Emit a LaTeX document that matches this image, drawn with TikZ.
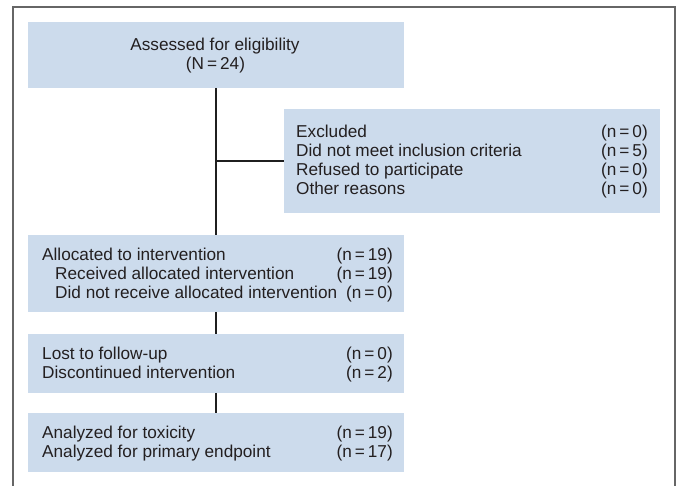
\documentclass[tikz,border=0pt]{standalone}
\usepackage{fontspec}
\setmainfont{Liberation Sans}
\definecolor{boxfill}{RGB}{204,219,236}
\definecolor{txt}{RGB}{35,31,32}
\newcommand{\myeq}{\hspace{3pt}=\hspace{3pt}}
\begin{document}
\begin{tikzpicture}[x=1pt,y=-1pt,
  box/.style={fill=boxfill, draw=none, minimum width=376pt, inner sep=0pt, outer sep=0pt},
  tx/.style={inner sep=0pt, text=txt, font=\fontsize{17.2}{19}\selectfont},
  lt/.style={tx, anchor=base west},
  rt/.style={tx, anchor=base east},
  ct/.style={tx, anchor=base},
  conn/.style={draw=black!88, line width=2.6pt},
  framepath/.style={draw=black!60, line width=1.8pt}]
\useasboundingbox (0,0) rectangle (681,486);
% outer frame (open at bottom)
\draw[framepath] (13,490) -- (13,7) -- (675,7) -- (675,490);
% boxes
\node[box, minimum height=66pt] (b1) at (216,55) {};
\node[box, minimum height=104pt] (ex) at (472,161) {};
\node[box, minimum height=77pt] (b3) at (216,273.5) {};
\node[box, minimum height=59pt] (b4) at (216,363.5) {};
\node[box, minimum height=59pt] (b5) at (216,442.5) {};
% connectors
\coordinate (j) at (b1.south |- ex.west);
\draw[conn] (b1.south) -- (b3.north);
\draw[conn] (j) -- (ex.west);
\draw[conn] (b3.south) -- (b4.north);
\draw[conn] (b4.south) -- (b5.north);
% texts box 1
\node[ct] (t1a) at (215,50.5) {Assessed for eligibility};
\node[ct] (t1b) at (215.5,69.5) {(N\myeq 24)};
% excluded box
\node[lt] (e1) at (296,138) {Excluded};
\node[lt] (e2) at (296,157) {Did not meet inclusion criteria};
\node[lt] (e3) at (296,176) {Refused to participate};
\node[lt] (e4) at (296,195) {Other reasons};
\node[rt] (n1) at (648,138) {(n\myeq 0)};
\node[rt] (n2) at (648,157) {(n\myeq 5)};
\node[rt] (n3) at (648,176) {(n\myeq 0)};
\node[rt] (n4) at (648,195) {(n\myeq 0)};
% allocated box
\node[lt] (a1) at (42,260.5) {Allocated to intervention};
\node[lt] (a2) at (55,279.5) {Received allocated intervention};
\node[lt] (a3) at (55,298.5) {Did not receive allocated intervention};
\node[rt] (m1) at (393,260.5) {(n\myeq 19)};
\node[rt] (m2) at (393,279.5) {(n\myeq 19)};
\node[rt] (m3) at (393,298.5) {(n\myeq 0)};
% follow-up box
\node[lt] (f1) at (42,359.5) {Lost to follow-up};
\node[lt] (f2) at (42,378.5) {Discontinued intervention};
\node[rt] (g1) at (393,359.5) {(n\myeq 0)};
\node[rt] (g2) at (393,378.5) {(n\myeq 2)};
% analysis box
\node[lt] (h1) at (42,438.5) {Analyzed for toxicity};
\node[lt] (h2) at (42,457.5) {Analyzed for primary endpoint};
\node[rt] (k1) at (393,438.5) {(n\myeq 19)};
\node[rt] (k2) at (393,457.5) {(n\myeq 17)};
\end{tikzpicture}
\end{document}
